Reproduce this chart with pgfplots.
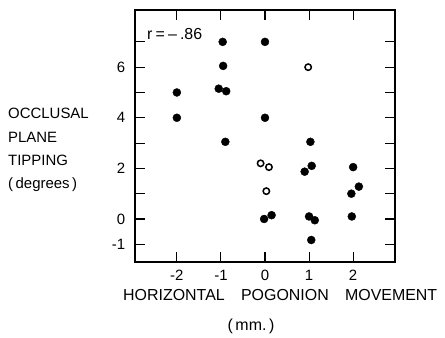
\documentclass[border=0pt]{standalone}
\usepackage{fontspec}
\setmainfont{Liberation Sans}
\usepackage{pgfplots}
\pgfplotsset{compat=1.18}
\begin{document}
\fontsize{14}{16}\selectfont
\begin{tikzpicture}
\useasboundingbox (-135bp,-76bp) rectangle (310bp,262bp);
\begin{axis}[at={(0,0)}, anchor=south west, scale only axis,
 width=260bp, height=252bp,
 xmin=-2.95, xmax=2.95, ymin=-1.7, ymax=8.26,
 xtick={-2,-1,0,1,2}, xticklabels={-2,-1,0,1,2},
 ytick={-1,0,1,2,3,4,5,6,7}, yticklabels={-1,0,{},2,{},4,{},6,{}},
 tick align=inside, major tick length=10bp,
 tick style={black, line width=1.1pt}, axis line style={line width=1.1pt},
 ticklabel style={font=\fontsize{15}{17}\selectfont},
 xticklabel style={yshift=-3bp}, yticklabel style={xshift=-5bp},
]
\addplot[only marks, mark=*, mark size=4bp, black] coordinates {
(-2,5) (-2,4) (-0.96,7) (-0.95,6.05) (-1.05,5.15) (-0.88,5.05) (-0.9,3.05)
(0,7) (0,4) (-0.02,0) (0.15,0.15)
(1.03,3.05) (0.9,1.87) (1.06,2.1) (1.0,0.1) (1.13,-0.05) (1.05,-0.83)
(2.0,2.05) (1.96,1.0) (2.13,1.28) (1.97,0.1)
};
\addplot[only marks, mark=*, mark size=3.2bp, mark options={draw=black, fill=white, line width=1.5bp}] coordinates {
(-0.1,2.2) (0.09,2.05) (0.03,1.1) (0.98,6.0)
};
\end{axis}
\node[anchor=base west, inner sep=0pt, font=\fontsize{16}{18}\selectfont] at (12bp,222bp) {\makebox[55bp][s]{r\hfill=\hfill--\hfill.86}};
\node[anchor=north west, inner sep=0pt, align=left, font=\fontsize{15}{23.5}\selectfont] at (-127bp,154bp)
 {OCCLUSAL\\PLANE\\TIPPING\\(\,degrees\,)};
\node[anchor=base west, inner sep=0pt, font=\fontsize{16}{18}\selectfont] at (-12bp,-38bp)
 {\makebox[314bp][s]{HORIZONTAL\hfill POGONION\hfill MOVEMENT}};
\node[anchor=base, inner sep=0pt, font=\fontsize{16}{18}\selectfont] at (116bp,-68bp) {(\,mm.\,)};
\end{tikzpicture}
\end{document}
